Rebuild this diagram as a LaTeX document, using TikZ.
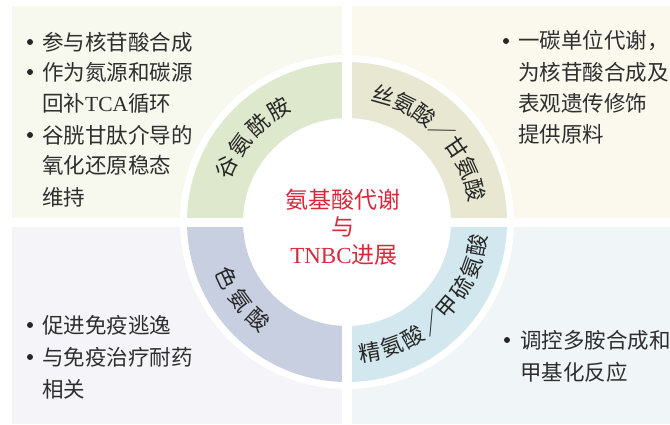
\documentclass[tikz,border=0pt]{standalone}
\usepackage{fontspec}
\setmainfont{Liberation Serif}
\newfontfamily\cjk{Noto Sans CJK SC}
\newfontfamily\latf{Liberation Serif}
\usetikzlibrary{calc}
\definecolor{bgTL}{HTML}{F7F8EE}
\definecolor{bgTR}{HTML}{FBF8EE}
\definecolor{bgBL}{HTML}{F5F4F8}
\definecolor{bgBR}{HTML}{F0F5F8}
\definecolor{rgTL}{HTML}{DDE8CC}
\definecolor{rgTR}{HTML}{E8E8D2}
\definecolor{rgBL}{HTML}{C8CFE1}
\definecolor{rgBR}{HTML}{D2E8EE}
\definecolor{ctrred}{HTML}{D9283C}
\definecolor{txtgray}{HTML}{2E2E2E}
\begin{document}
\begin{tikzpicture}[x=1pt,y=1pt,
  txt/.style={anchor=west,inner sep=0pt,font=\cjk\fontsize{21.5}{24}\selectfont,text=txtgray},
  bul/.style={circle,fill=black!85,inner sep=0pt,minimum size=6pt},
  ringlbl/.style={inner sep=0pt,font=\cjk\fontsize{22}{24}\selectfont,text=black!85},
  ctr/.style={inner sep=0pt,font=\cjk\fontsize{23}{26}\selectfont,text=ctrred}]
\useasboundingbox (0,0) rectangle (670,424);
\coordinate (C) at (347,202);
% background quadrants
\fill[bgTL] (12,206) rectangle (342,418);
\fill[bgTR] (352,206) rectangle (670,418);
\fill[bgBL] (12,0) rectangle (342,197);
\fill[bgBR] (352,0) rectangle (670,197);
% white halo
\fill[white] (C) circle (167);
% ring sectors
\foreach \c/\s in {rgTR/0,rgTL/90,rgBL/180,rgBR/270}{
  \pgfmathsetmacro\e{\s+90}
  \fill[\c] ([shift={(\s:104)}]C) -- ([shift={(\s:160)}]C)
     arc[start angle=\s,end angle=\e,radius=160]
     -- ([shift={(\e:104)}]C)
     arc[start angle=\e,end angle=\s,radius=104] -- cycle;
}
% gaps
\fill[white] (342,0) rectangle (352,424);
\fill[white] (0,197) rectangle (670,206);
% centre title
\node[ctr] (t1) at (343,224) {氨基酸代谢};
\node[ctr] (t2) at (343,197) {与};
\node[ctr] (t3) at (344,169) {{\latf TNBC}进展};
% ring labels
\foreach \ch/\a [count=\i, evaluate=\a as \r using \a-90] in {谷/155.5,氨/144,酰/132.5,胺/121}
  \node[ringlbl,rotate=\r] (gln\i) at ([shift={(\a:132)}]C) {\ch};
\foreach \ch/\a [count=\i, evaluate=\a as \r using \a-90] in {丝/74,氨/64,酸/54,／/44,甘/34,氨/24,酸/14}
  \node[ringlbl,rotate=\r] (ser\i) at ([shift={(\a:132)}]C) {\ch};
\foreach \ch/\a [count=\i, evaluate=\a as \r using \a+90] in {色/205,氨/216.5,酸/228}
  \node[ringlbl,rotate=\r] (trp\i) at ([shift={(\a:132)}]C) {\ch};
\foreach \ch/\a [count=\i, evaluate=\a as \r using \a+90] in {精/-80,氨/-70,酸/-60,／/-50,甲/-40,硫/-30,氨/-20,酸/-10}
  \node[ringlbl,rotate=\r] (arg\i) at ([shift={(\a:132)}]C) {\ch};
% top-left text
\node[bul] (tlb1) at (30,382) {};
\node[txt] (tl1) at (42,382) {参与核苷酸合成};
\node[bul] (tlb2) at (30,352) {};
\node[txt] (tl2) at (42,352) {作为氮源和碳源};
\node[txt] (tl3) at (42,321) {回补{\latf TCA}循环};
\node[bul] (tlb3) at (30,289) {};
\node[txt] (tl4) at (42,289) {谷胱甘肽介导的};
\node[txt] (tl5) at (42,259) {氧化还原稳态};
\node[txt] (tl6) at (42,227) {维持};
% top-right text
\node[bul] (trb1) at (506,383) {};
\node[txt] (tr1) at (518,383) {一碳单位代谢，};
\node[txt] (tr2) at (518,352) {为核苷酸合成及};
\node[txt] (tr3) at (518,321) {表观遗传修饰};
\node[txt] (tr4) at (518,290) {提供原料};
% bottom-left text
\node[bul] (blb1) at (30,99) {};
\node[txt] (bl1) at (42,99) {促进免疫逃逸};
\node[bul] (blb2) at (30,67) {};
\node[txt] (bl2) at (42,67) {与免疫治疗耐药};
\node[txt] (bl3) at (42,35) {相关};
% bottom-right text
\node[bul] (brb1) at (507,84) {};
\node[txt] (br1) at (520,84) {调控多胺合成和};
\node[txt] (br2) at (520,52) {甲基化反应};
\end{tikzpicture}
\end{document}
